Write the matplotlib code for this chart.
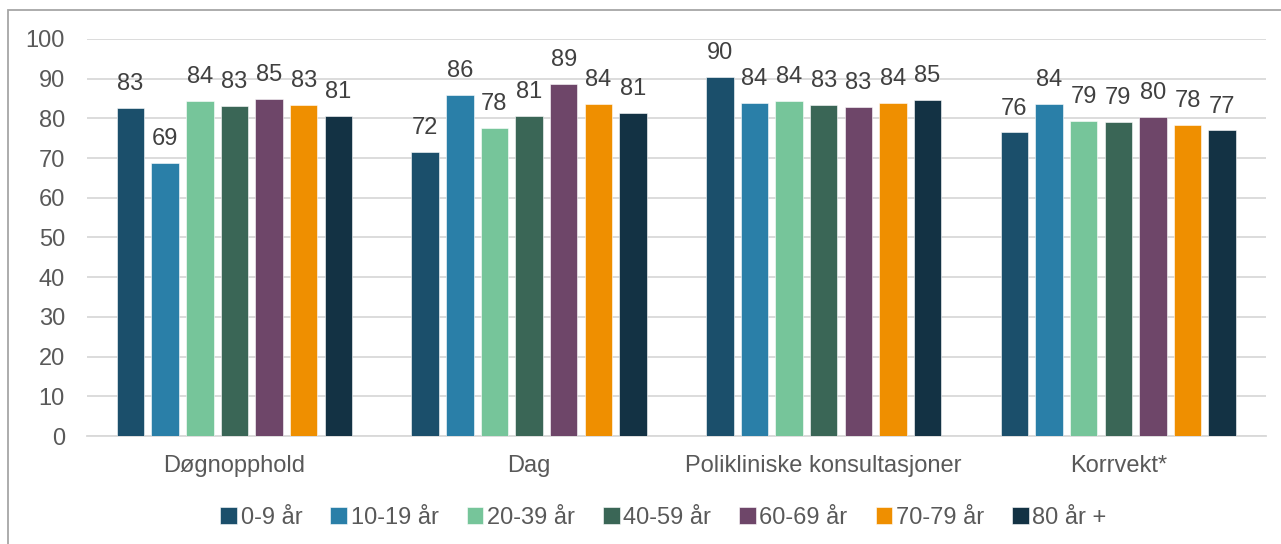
import numpy as np
import matplotlib
matplotlib.use("Agg")
import matplotlib.pyplot as plt
from matplotlib.patches import Rectangle

plt.rcParams['font.family'] = ['Liberation Sans', 'DejaVu Sans']

# Data
categories = ["Døgnopphold", "Dag", "Polikliniske konsultasjoner", "Korrvekt*"]
series_names = ["0-9 år", "10-19 år", "20-39 år", "40-59 år", "60-69 år", "70-79 år", "80 år +"]
values = [
    [82.6, 71.6, 90.4, 76.5],   # 0-9
    [68.8, 85.9, 83.9, 83.6],   # 10-19
    [84.4, 77.6, 84.4, 79.3],   # 20-39
    [83.1, 80.6, 83.4, 79.1],   # 40-59
    [84.9, 88.7, 82.9, 80.4],   # 60-69
    [83.4, 83.6, 83.9, 78.3],   # 70-79
    [80.6, 81.3, 84.6, 77.0],   # 80+
]
colors = ["#1B4F6B", "#2A7FA8", "#76C59A", "#3A6656", "#6E4669", "#EF8F00", "#133244"]

text_color = "#595959"
fs = 17

fig = plt.figure(figsize=(12.81, 5.44), dpi=100)
ax = fig.add_axes([0.068, 0.1985, 0.92, 0.7300])

x = np.arange(len(categories))
step = 0.1175
width = 0.093
for i, (name, vals) in enumerate(zip(series_names, values)):
    pos = x + (i - 3) * step
    bars = ax.bar(pos, vals, width, color=colors[i], label=name,
                  edgecolor="white", linewidth=0.4, zorder=3)
    for b, v in zip(bars, vals):
        ax.text(b.get_x() + b.get_width() / 2, v + 3.2, "%.0f" % v,
                ha="center", va="bottom", fontsize=fs, color="#404040")

ax.set_xlim(-0.5, 3.5)
ax.set_ylim(0, 100)
ax.set_yticks(range(0, 101, 10))
ax.yaxis.grid(True, color="#D9D9D9", linewidth=1.3, zorder=0)
ax.set_axisbelow(True)
for s in ["top", "right", "left"]:
    ax.spines[s].set_visible(False)
ax.spines["bottom"].set_color("#D9D9D9")
ax.spines["bottom"].set_linewidth(1.3)
ax.tick_params(axis="both", length=0, labelsize=fs, labelcolor=text_color)
ax.tick_params(axis="y", pad=16)
ax.tick_params(axis="x", pad=14)
ax.set_xticks(x)
ax.set_xticklabels(categories)

leg = fig.legend(loc="center", bbox_to_anchor=(0.518, 0.048), ncol=7, frameon=False,
                 fontsize=fs, handlelength=0.7, handleheight=0.7,
                 handletextpad=0.15, columnspacing=1.2, labelcolor=text_color)

# outer chart frame
fig.patches.append(Rectangle((8 / 1281, -0.02), 1.1, 1 - 10 / 544 + 0.02,
                             transform=fig.transFigure, fill=False,
                             edgecolor="#A6A6A6", linewidth=1.3))

fig.savefig("out.png", dpi=100)
